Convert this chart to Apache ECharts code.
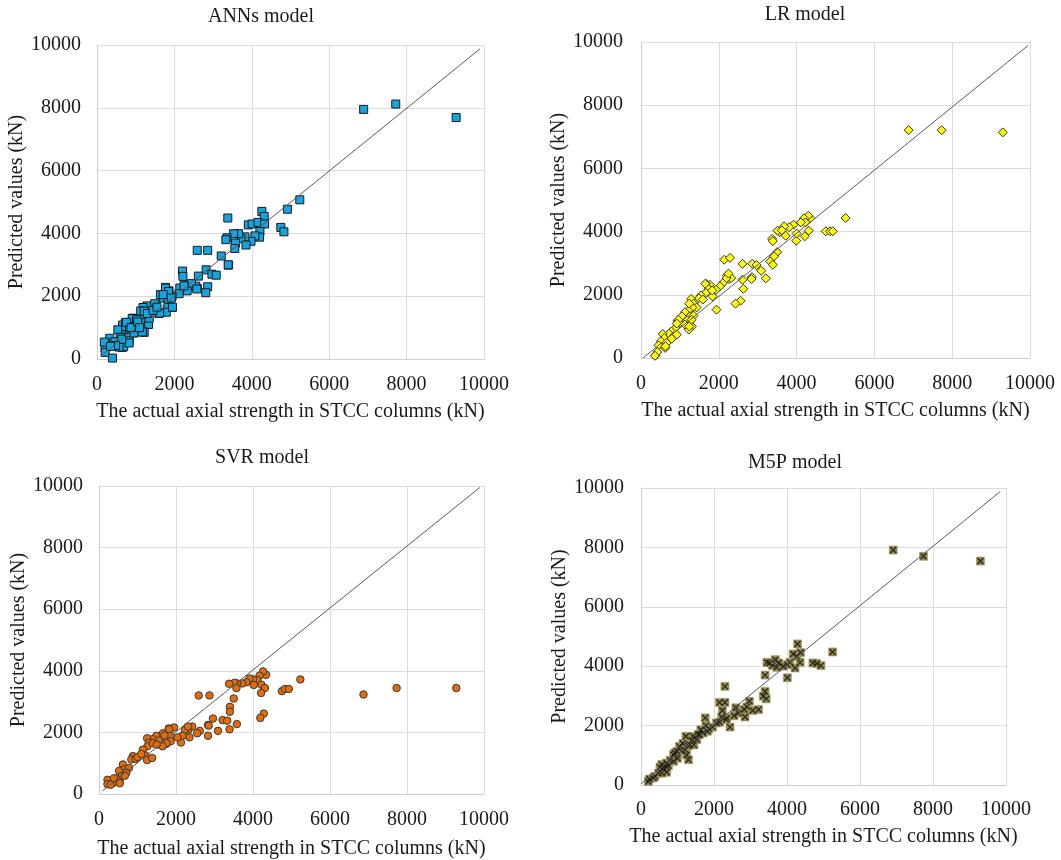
<!DOCTYPE html>
<html><head><meta charset="utf-8">
<script src="https://cdn.jsdelivr.net/npm/echarts@6.0.0/dist/echarts.min.js"></script>
<style>html,body{margin:0;padding:0;background:#fff}#c{width:1061px;height:860px}</style>
</head><body><div id="c"></div>
<script>
// ---- data ----
const panelTitles = ['ANNs model', 'LR model', 'SVR model', 'M5P model'];
const xAxisTitle = 'The actual axial strength in STCC columns (kN)';
const yAxisTitle = 'Predicted values (kN)';

const annData = [[6890,7950],[7720,8120],[9280,7690],[5240,5070],[4920,4770],[4260,4700],[4320,4540],[3380,4490],[4750,4190],[4830,4050],[3910,4270],[4010,4300],[4160,4350],[4330,4300],[4210,4060],[4200,3880],[4080,3920],[3980,3750],[3820,3890],[3720,3830],[3660,3990],[3530,3990],[3360,3860],[3330,3800],[3580,3690],[3560,3520],[3850,3630],[2590,3460],[2860,3460],[3210,3280],[3400,2990],[3390,3000],[2210,2800],[2220,2630],[2820,2840],[2970,2700],[3080,2670],[2620,2640],[2860,2300],[2810,2110],[2590,2250],[2550,2320],[2440,2400],[2260,2330],[2330,2170],[2140,2260],[2120,2080],[1940,2000],[1860,2170],[1770,2280],[1640,2050],[1720,1940],[1840,1910],[1930,1640],[1830,1640],[1790,1490],[1600,1450],[1500,1720],[1410,1640],[1290,1690],[1190,1640],[1130,1530],[1230,1430],[1280,1290],[1160,1260],[1230,1150],[1330,1100],[1180,870],[1220,850],[930,1300],[1000,1250],[890,1150],[730,1150],[660,1080],[770,990],[950,1010],[930,830],[710,810],[630,770],[540,930],[600,690],[820,690],[830,580],[440,550],[330,660],[210,520],[210,350],[210,210],[570,520],[650,370],[690,390],[400,30],[190,540],[460,550],[570,380],[740,1040],[830,510],[840,990],[910,1290],[1020,1250],[960,830],[1170,860],[1220,1520],[1350,1300],[1490,1760],[1530,1590],[1620,1460],[1770,2260],[1850,2150],[1710,2050],[1920,1940],[1950,1650],[2250,2330],[2580,2230],[760,1170],[880,1000],[1050,1180],[1300,1450],[1450,1550],[1550,1650],[1100,1000],[640,630],[480,430],[350,400]];

const lrData = [[6880,7210],[7730,7210],[9300,7140],[5260,4430],[4750,4010],[4860,4010],[4930,4010],[4350,4420],[4300,4500],[4190,4420],[4230,4290],[4110,4290],[4310,4030],[4210,3850],[3990,3710],[4000,3940],[3920,4220],[3810,4140],[3680,4170],[3560,3980],[3510,4030],[3620,4040],[3720,3870],[3370,3770],[3390,3700],[3500,3350],[3420,3220],[3320,3060],[3390,2950],[3090,2760],[3210,2520],[2860,2980],[2970,2940],[2610,2980],[2850,2560],[2610,2480],[2630,2190],[2560,1810],[2430,1720],[2140,3110],[2290,3170],[2210,2610],[2260,2500],[2320,2530],[2130,2400],[2030,2270],[1930,2160],[1940,1530],[1840,1950],[1770,2320],[1670,2350],[1740,2190],[1670,2060],[1540,1980],[1490,1890],[1290,1870],[1350,1720],[1430,1600],[1320,1600],[1220,1500],[1130,1450],[1260,1320],[1350,1340],[1190,1190],[1310,1000],[1230,900],[940,1180],[1000,1110],[890,950],[780,840],[720,770],[560,760],[600,630],[840,690],[920,740],[510,530],[450,400],[620,320],[370,80],[420,190],[660,480],[790,610],[1050,1320],[1130,1060],[2840,2500],[2200,2530],[2250,2670],[1650,2350],[1830,2140],[1590,1850],[1240,1720],[1240,1000],[1300,1210],[960,1210],[920,1090],[630,370],[360,70]];

const svrData = [[6870,3230],[7730,3440],[9280,3440],[5230,3720],[4750,3340],[4830,3410],[4930,3410],[4340,3870],[4260,3980],[4170,3840],[4110,3700],[4220,3550],[4310,3440],[4210,3280],[4000,3720],[4020,3540],[3910,3750],[3830,3630],[3720,3590],[3590,3590],[3520,3610],[3570,3440],[3380,3580],[3500,3100],[3400,2830],[3400,2670],[3580,2270],[3390,2100],[4280,2610],[4190,2470],[2590,3200],[2870,3200],[2960,2450],[2830,2240],[2850,2220],[2830,1890],[3090,2050],[3210,2400],[3330,2380],[2620,2050],[2550,1970],[2420,2190],[2320,2080],[2270,1920],[2350,1840],[2230,2080],[2130,1670],[2170,1890],[2040,1840],[1950,2160],[1810,2130],[1860,1890],[1750,1630],[1640,1570],[1600,1780],[1490,1890],[1550,1740],[1390,1780],[1250,1810],[1300,1670],[1260,1550],[1140,1440],[1200,1250],[1250,1100],[1380,1170],[880,1230],[840,1120],[950,1140],[620,960],[650,800],[520,750],[590,590],[450,500],[540,390],[360,350],[220,460],[220,320],[390,510],[780,850],[710,690],[2310,2190],[1820,2100],[1660,1970],[1860,1710],[1750,1650],[1650,1550],[670,590],[540,350],[1000,1200],[1100,1300],[1400,1650],[1500,1600],[1700,1900],[300,300]];

const m5pData = [[6910,7910],[7740,7700],[9300,7540],[5250,4480],[4710,4110],[4810,4090],[4930,4020],[4290,4750],[4370,4460],[4170,4410],[4270,4330],[4360,4130],[4220,3940],[4080,4130],[4010,4050],[3900,4000],[3770,4110],[3680,4220],[3600,4020],[3520,4110],[3450,4130],[3400,3700],[4010,3610],[3720,3960],[2300,3320],[2150,2780],[2300,2780],[2230,2510],[2210,2290],[2350,2260],[2440,1950],[2600,2600],[2670,2420],[2550,2330],[2830,2540],[2850,2290],[2970,2820],[2900,2630],[3060,2510],[3220,2540],[3400,3150],[3430,2900],[3350,2990],[1760,2260],[1780,2000],[1960,1950],[2070,2090],[1860,1890],[1640,1860],[1570,1700],[1530,1530],[1430,1640],[1230,1640],[1300,1320],[1210,1190],[1250,1020],[1050,1300],[980,1130],[890,1020],[800,830],[700,740],[610,570],[520,600],[570,400],[700,430],[380,290],[230,200],[200,120],[340,240],[2330,2200],[2150,2110],[1820,1810],[1600,1700],[1340,1360],[1300,850],[930,1080],[890,800],[700,610],[570,690],[480,400],[1100,1150],[1400,1500],[1700,1750],[1000,900],[750,650],[1150,1400],[1450,1350]];

// y = x reference lines
const annLine = [[100,100],[9900,9880]];
const lrLine  = [[50,0],[9950,9890]];
const svrLine = [[90,100],[9890,9950]];
const m5pLine = [[0,40],[9840,9880]];

const axisMin = 0, axisMax = 10000, axisStep = 2000;

// ---- layout / style ----
const FONT = 'Liberation Serif';
const FS = 20;
const TXT = '#1a1a1a';
const panels = [
  {data: annData, line: annLine, grid: {left: 97, top: 45, width: 387, height: 314}, title: [256, 2],
   symbol: 'rect', size: 8, fill: '#14a4e0', border: '#1a1a1a', bw: 1, xGap: 43, yGap: 63, xm: 16, ym: 16},
  {data: lrData, line: lrLine, grid: {left: 641, top: 42, width: 389, height: 316}, title: [800, 0],
   symbol: 'diamond', size: 9, fill: '#ffff00', border: '#333', bw: 1, xGap: 43, yGap: 62, xm: 16, ym: 18},
  {data: svrData, line: svrLine, grid: {left: 99, top: 486, width: 385, height: 312}, title: [257, 443],
   symbol: 'circle', size: 7.5, fill: '#e36c09', border: '#3a3a3a', bw: 1, xGap: 45, yGap: 62, xm: 16, ym: 16},
  {data: m5pData, line: m5pLine, grid: {left: 641, top: 488, width: 365, height: 297}, title: [790, 448],
   symbol: 'rect', size: 8, fill: '#948a54', border: '#948a54', bw: 0.5, xGap: 42, yGap: 58, xm: 15, ym: 17, cross: true}
];

const option = {animation: false, backgroundColor: '#fff', title: [], grid: [], xAxis: [], yAxis: [], series: []};
panels.forEach((p, i) => {
  option.title.push({text: panelTitles[i], left: p.title[0], top: p.title[1], textAlign: 'center',
    textStyle: {fontFamily: FONT, fontSize: FS, fontWeight: 'normal', color: TXT}});
  option.grid.push(Object.assign({containLabel: false}, p.grid));
  const common = {
    gridIndex: i, type: 'value', min: axisMin, max: axisMax, interval: axisStep,
    axisLine: {show: true, lineStyle: {color: '#cfcfcf', width: 1}},
    axisTick: {show: false},
    splitLine: {show: true, lineStyle: {color: '#dcdcdc', width: 1}},
    nameLocation: 'middle',
    nameTextStyle: {fontFamily: FONT, fontSize: FS, color: TXT}
  };
  const fmt = v => String(v);
  option.xAxis.push(Object.assign({}, common, {name: xAxisTitle, nameGap: p.xGap,
    axisLabel: {fontFamily: FONT, fontSize: FS, color: TXT, margin: p.xm, formatter: fmt}}));
  option.yAxis.push(Object.assign({}, common, {name: yAxisTitle, nameGap: p.yGap,
    axisLabel: {fontFamily: FONT, fontSize: FS, color: TXT, margin: p.ym, formatter: fmt}}));
  option.series.push({type: 'scatter', xAxisIndex: i, yAxisIndex: i, data: p.data,
    symbol: p.symbol, symbolSize: p.size,
    itemStyle: {color: p.fill, borderColor: p.border, borderWidth: p.bw, opacity: 1}});
  if (p.cross) {
    option.series.push({type: 'scatter', xAxisIndex: i, yAxisIndex: i, data: p.data,
      symbol: 'path://M0,0L10,10M10,0L0,10', symbolSize: 6,
      itemStyle: {color: 'rgba(0,0,0,0)', borderColor: '#111', borderWidth: 1.3}});
  }
  option.series.push({type: 'line', xAxisIndex: i, yAxisIndex: i, data: p.line,
    symbol: 'none', silent: true, lineStyle: {color: '#5a5a5a', width: 1}, z: 5});
});

const chart = echarts.init(document.getElementById('c'), null, {renderer: 'canvas'});
chart.setOption(option);
</script>
</body></html>
